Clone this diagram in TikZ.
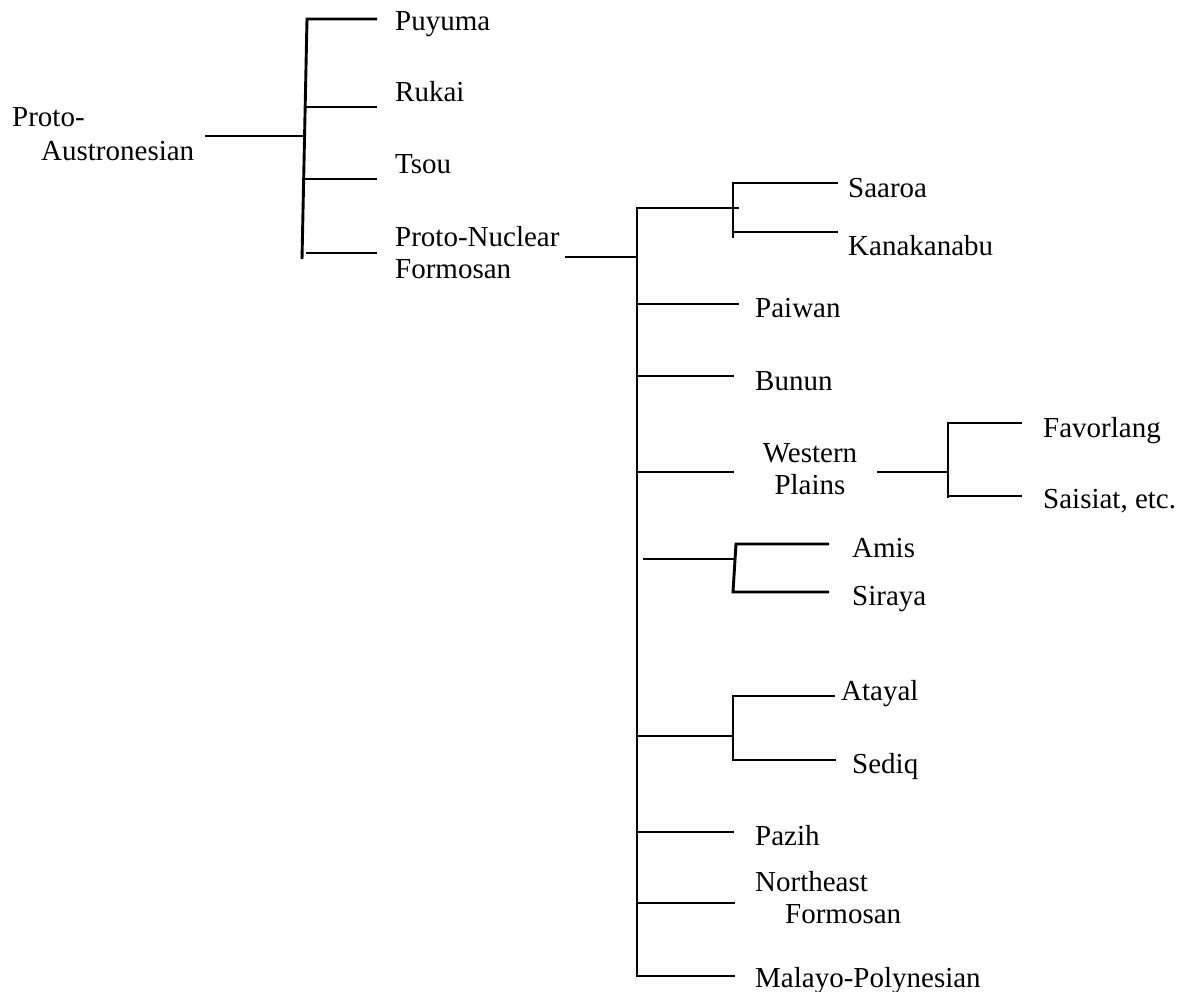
\documentclass[tikz,border=0pt]{standalone}
\usepackage{fontspec}
\setmainfont{Liberation Serif}
\begin{document}
\begin{tikzpicture}[x=1pt,y=-1pt,
  lbl/.style={anchor=base west, inner sep=0pt, font=\fontsize{29}{32}\selectfont},
  clbl/.style={anchor=base, inner sep=0pt, font=\fontsize{29}{32}\selectfont},
  branch/.style={line width=2.9pt, line join=miter, black}]
\useasboundingbox (0,0) rectangle (1178,992);

% ---------- labels ----------
\node[lbl] (pa) at (12,127) {\begin{tabular}[t]{@{}l@{}}Proto-\\[2pt]\hspace{29pt}Austronesian\end{tabular}};
\node[lbl] (puyuma) at (395,31) {Puyuma};
\node[lbl] (rukai) at (395,102) {Rukai};
\node[lbl] (tsou) at (395,174) {Tsou};
\node[lbl] (pnf) at (395,247) {\begin{tabular}[t]{@{}l@{}}Proto-Nuclear\\Formosan\end{tabular}};
\node[lbl] (saaroa) at (848,198) {Saaroa};
\node[lbl] (kanakanabu) at (848,256) {Kanakanabu};
\node[lbl] (paiwan) at (755,318) {Paiwan};
\node[lbl] (bunun) at (755,390) {Bunun};
\node[clbl] (wp) at (810,462) {\begin{tabular}[t]{@{}c@{}}Western\\Plains\end{tabular}};
\node[lbl] (favorlang) at (1043,437) {Favorlang};
\node[lbl] (saisiat) at (1043,508) {Saisiat, etc.};
\node[lbl] (amis) at (852,557) {Amis};
\node[lbl] (siraya) at (852,605) {Siraya};
\node[lbl] (atayal) at (841,700) {Atayal};
\node[lbl] (sediq) at (852,773) {Sediq};
\node[lbl] (pazih) at (755,845) {Pazih};
\node[lbl] (nef) at (755,891) {\begin{tabular}[t]{@{}l@{}}Northeast\\\hspace{30pt}Formosan\end{tabular}};
\node[lbl] (mp) at (755,987) {Malayo-Polynesian};

% ---------- coordinates ----------
\coordinate (paR) at (205,136);
\coordinate (v1top) at (307,19);
\coordinate (v1bot) at (302,259);
\coordinate (v1mid) at (303,136);
\coordinate (puE) at (377,19);
\coordinate (ruS) at (305,107);  \coordinate (ruE) at (377,107);
\coordinate (tsS) at (304,179);  \coordinate (tsE) at (377,179);
\coordinate (pnS) at (306,253);  \coordinate (pnE) at (377,253);

\coordinate (pnR) at (565,257);
\coordinate (mtop) at (637,208);
\coordinate (mmid) at (637,257);
\coordinate (mbot) at (637,976);

\coordinate (saJ) at (739,208);
\coordinate (saT) at (733,183);  \coordinate (saE) at (838,183);
\coordinate (saB) at (733,238);
\coordinate (kaS) at (733,232);  \coordinate (kaE) at (838,232);

\coordinate (paS) at (637,304);  \coordinate (paE) at (739,304);
\coordinate (buS) at (637,376);  \coordinate (buE) at (734,376);

\coordinate (wpS) at (637,472);  \coordinate (wpE) at (734,472);
\coordinate (wpR) at (877,472);  \coordinate (wpJ) at (948,472);
\coordinate (fvT) at (948,423);  \coordinate (fvE) at (1022,423);
\coordinate (wpB) at (948,498);
\coordinate (ssS) at (948,496);  \coordinate (ssE) at (1022,496);

\coordinate (amL) at (643,559);  \coordinate (amJ) at (736,559);
\coordinate (amT) at (736,544);  \coordinate (amE) at (829,544);
\coordinate (siB) at (733,592);  \coordinate (siE) at (829,592);

\coordinate (atS) at (637,736);  \coordinate (atJ) at (733,736);
\coordinate (atT) at (733,696);  \coordinate (atE) at (835,696);
\coordinate (seB) at (733,760);  \coordinate (seE) at (836,760);

\coordinate (pzS) at (637,832);  \coordinate (pzE) at (734,832);
\coordinate (neS) at (637,903);  \coordinate (neE) at (735,903);
\coordinate (mpE) at (735,976);

% ---------- branches ----------
\draw[branch] (paR) -- (v1mid);
\draw[branch] (puE) -- (v1top) -- (v1bot);
\draw[branch] (ruS) -- (ruE);
\draw[branch] (tsS) -- (tsE);
\draw[branch] (pnS) -- (pnE);

\draw[branch] (pnR) -- (mmid);
\draw[branch] (saJ) -- (mtop) -- (mbot) -- (mpE);
\draw[branch] (saE) -- (saT) -- (saB);
\draw[branch] (kaS) -- (kaE);
\draw[branch] (paS) -- (paE);
\draw[branch] (buS) -- (buE);

\draw[branch] (wpS) -- (wpE);
\draw[branch] (wpR) -- (wpJ);
\draw[branch] (fvE) -- (fvT) -- (wpB);
\draw[branch] (ssS) -- (ssE);

\draw[branch] (amL) -- (amJ);
\draw[branch] (amE) -- (amT) -- (siB) -- (siE);

\draw[branch] (atS) -- (atJ);
\draw[branch] (atE) -- (atT) -- (seB) -- (seE);

\draw[branch] (pzS) -- (pzE);
\draw[branch] (neS) -- (neE);
\end{tikzpicture}
\end{document}
